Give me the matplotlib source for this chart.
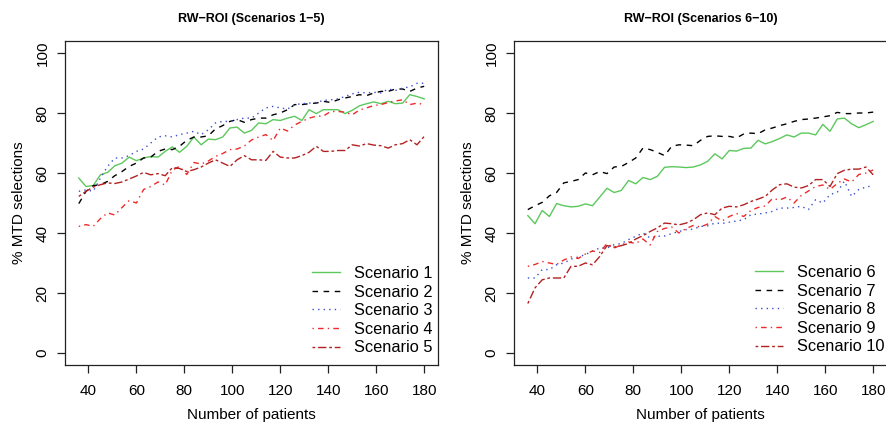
import matplotlib

matplotlib.use("Agg")
import matplotlib.pyplot as plt
import numpy as np

plt.rcParams["font.family"] = ["Liberation Sans", "DejaVu Sans"]

# number of patients (36, 39, ..., 180)
patients = list(range(36, 181, 3))

# % MTD selections
scen1 = [58.3, 55.5, 55.8, 59.4, 60.2, 62.4, 63.3, 65.3, 64.1, 65.0, 65.5, 65.3, 67.2,
         68.7, 66.9, 68.9, 72.0, 69.4, 71.3, 71.1, 72.0, 75.0, 75.3, 73.3, 74.2, 76.7,
         76.4, 77.8, 77.5, 78.3, 78.9, 77.5, 81.1, 79.8, 81.1, 81.1, 81.1, 79.8, 80.9,
         82.4, 83.1, 83.7, 83.1, 83.9, 83.1, 83.3, 86.1, 85.5, 84.7]
scen2 = [49.8, 53.9, 55.8, 56.1, 57.2, 59.1, 60.5, 62.2, 63.3, 65.0, 65.3, 67.2, 68.0,
         67.8, 68.9, 70.9, 72.0, 72.0, 72.4, 74.7, 75.8, 77.2, 77.8, 76.9, 77.8, 78.3,
         78.3, 79.4, 80.0, 81.1, 82.8, 82.8, 83.1, 83.3, 83.9, 83.5, 84.4, 85.0, 85.5,
         86.1, 85.8, 86.7, 87.2, 87.2, 88.0, 88.0, 87.2, 88.3, 88.9]
scen3 = [53.9, 54.4, 53.9, 58.3, 62.2, 65.0, 65.0, 65.8, 67.2, 68.0, 70.0, 72.0, 72.4,
         72.0, 72.8, 73.3, 73.9, 72.8, 74.4, 76.7, 77.2, 77.2, 77.8, 78.3, 78.3, 80.0,
         81.7, 82.2, 81.7, 81.3, 82.8, 83.1, 83.3, 83.5, 84.2, 84.4, 84.7, 85.5, 86.4,
         86.9, 86.7, 86.9, 86.7, 88.0, 87.5, 88.3, 88.7, 89.9, 89.9]
scen4 = [42.2, 42.8, 42.2, 44.8, 46.7, 46.0, 48.5, 50.8, 50.0, 54.5, 55.5, 57.0, 56.0,
         61.0, 62.2, 59.5, 63.5, 63.0, 64.0, 65.5, 66.5, 67.8, 68.0, 69.0, 71.0, 72.0,
         72.8, 70.8, 75.0, 74.0, 76.0, 77.2, 78.3, 78.9, 79.0, 80.5, 80.5, 80.3, 79.4,
         81.0, 81.7, 82.5, 82.8, 83.5, 84.0, 84.4, 82.8, 83.3, 82.8]
scen5 = [52.2, 53.9, 55.3, 56.1, 56.7, 56.5, 57.0, 58.0, 59.0, 60.2, 59.4, 59.8, 59.1,
         61.8, 61.5, 60.5, 61.1, 62.0, 63.3, 64.4, 63.3, 62.2, 64.4, 65.8, 64.4, 64.4,
         64.2, 67.2, 65.3, 65.0, 65.0, 65.8, 66.9, 68.9, 67.2, 67.2, 67.5, 67.5, 69.4,
         69.0, 69.8, 69.3, 69.1, 68.3, 69.4, 69.8, 71.1, 69.4, 72.2]
scen6 = [45.8, 43.1, 47.5, 45.5, 49.8, 49.1, 48.7, 48.9, 49.7, 49.1, 52.0, 54.9, 53.5,
         54.2, 57.5, 56.4, 58.5, 57.8, 58.9, 61.9, 62.1, 62.0, 61.8, 62.0, 62.7, 63.9,
         66.4, 64.7, 67.5, 67.3, 68.2, 68.3, 70.9, 69.7, 70.5, 71.5, 72.7, 72.0, 73.3,
         73.3, 72.7, 76.2, 73.9, 78.0, 78.3, 76.4, 75.1, 76.1, 77.2]
scen7 = [47.8, 49.1, 50.2, 52.4, 53.5, 56.7, 57.2, 57.8, 60.0, 59.4, 60.5, 59.8, 62.0,
         62.2, 63.5, 65.0, 68.3, 67.8, 66.9, 65.8, 68.9, 69.4, 69.3, 69.1, 70.9, 72.2,
         72.4, 72.2, 72.2, 71.7, 73.0, 73.3, 73.1, 74.4, 75.0, 75.8, 76.4, 77.2, 77.8,
         78.0, 78.3, 78.7, 79.1, 80.2, 79.8, 79.8, 80.0, 80.0, 80.3]
scen8 = [25.0, 25.0, 27.8, 27.8, 29.4, 30.0, 31.3, 32.0, 32.8, 34.0, 35.0, 35.0, 36.1,
         36.5, 37.8, 38.9, 40.0, 38.3, 38.9, 39.0, 39.8, 40.5, 41.1, 41.3, 42.2, 42.4,
         43.3, 43.2, 43.6, 44.0, 44.4, 46.1, 46.3, 46.7, 47.2, 48.3, 48.3, 48.5, 48.9,
         47.8, 51.1, 50.0, 52.8, 53.6, 57.3, 52.2, 54.5, 55.3, 55.8]
scen9 = [28.9, 29.5, 30.5, 30.0, 29.5, 31.0, 32.0, 31.5, 33.0, 34.0, 33.5, 36.5, 35.0,
         36.0, 37.0, 36.5, 38.0, 36.0, 40.5, 41.5, 42.0, 40.0, 41.5, 42.5, 42.0, 43.0,
         45.5, 44.0, 45.5, 46.5, 45.5, 47.5, 48.5, 49.0, 51.5, 51.0, 52.0, 50.0, 52.5,
         54.0, 55.5, 56.0, 54.5, 56.5, 58.0, 57.0, 59.5, 60.0, 61.0]
scen10 = [16.5, 21.7, 24.4, 25.0, 25.0, 25.0, 28.9, 28.9, 30.0, 29.4, 32.2, 35.8, 35.3,
          35.8, 36.5, 38.0, 39.1, 40.5, 41.7, 43.3, 43.1, 42.7, 43.3, 44.4, 46.1, 46.7,
          46.1, 48.3, 48.9, 48.7, 49.4, 50.5, 51.3, 52.2, 54.4, 56.1, 56.4, 55.3, 55.0,
          55.8, 57.8, 57.8, 55.5, 59.8, 60.9, 61.3, 61.3, 62.0, 59.4]

x_ticks = [40, 60, 80, 100, 120, 140, 160, 180]
y_ticks = [0, 20, 40, 60, 80, 100]

STYLES = [
    ("#5cc85c", "-"),
    ("black", (0, (4, 4))),
    ("#3a4fd0", (0, (1, 3))),
    ("#ee2a2a", (0, (1, 3, 4, 3))),
    ("#b22222", (0, (2, 2, 6, 2))),
]

panels = [
    ("RW\u2212ROI (Scenarios 1\u22125)", [scen1, scen2, scen3, scen4, scen5], range(1, 6),
     [65 / 887, 57 / 422, 373 / 887, 324 / 422], (312 / 887, 1 - 266 / 422)),
    ("RW\u2212ROI (Scenarios 6\u221210)", [scen6, scen7, scen8, scen9, scen10], range(6, 11),
     [514 / 887, 57 / 422, 373 / 887, 324 / 422], (755 / 887, 1 - 265 / 422)),
]

fig = plt.figure(figsize=(8.87, 4.22), dpi=100)
for title, series, nums, rect, leg_pos in panels:
    ax = fig.add_axes(rect)
    for vals, (color, ls), n in zip(series, STYLES, nums):
        ax.plot(patients, vals, color=color, ls=ls, lw=1.0, label=f"Scenario {n}")
    ax.set_xlim(30.24, 185.76)
    ax.set_ylim(-4, 104)
    ax.set_xticks(x_ticks)
    ax.set_yticks(y_ticks)
    ax.set_yticklabels([str(v) for v in y_ticks], rotation=90, va="center")
    ax.tick_params(direction="out", length=6, width=0.9, labelsize=11, color="#222222")
    ax.tick_params(axis="x", pad=8)
    ax.tick_params(axis="y", pad=5)
    for sp in ax.spines.values():
        sp.set_linewidth(0.9)
        sp.set_color("#222222")
    ax.set_xlabel("Number of patients", fontsize=11, labelpad=7)
    ax.set_ylabel("% MTD selections", fontsize=11, labelpad=7)
    ax.set_title(title, fontsize=9, fontweight="bold", pad=14)
    ax.legend(loc="upper left", bbox_to_anchor=leg_pos, bbox_transform=fig.transFigure,
              frameon=False, fontsize=11.8, handlelength=1.7, handletextpad=0.85,
              labelspacing=0.22, borderpad=0, borderaxespad=0)

fig.savefig("out.png", dpi=100)
